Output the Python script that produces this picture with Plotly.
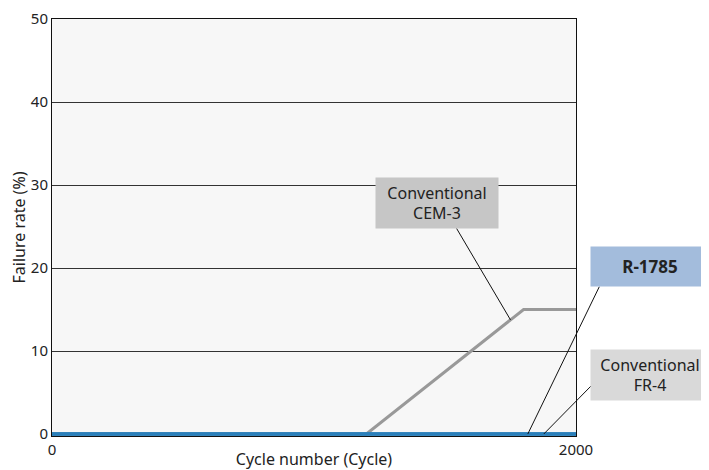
import plotly.graph_objects as go

# Data
cem3_cycles = [0, 1200, 1800, 2000]
cem3_failure = [0, 0, 15, 15]
r1785_cycles = [0, 2000]
r1785_failure = [0, 0]
fr4_cycles = [0, 2000]
fr4_failure = [0, 0]

y_ticks = [0, 10, 20, 30, 40, 50]
x_ticks = [0, 2000]

XMAX, YMIN, YMAX = 2000, -0.24, 50

fig = go.Figure()
fig.add_trace(go.Scatter(x=cem3_cycles, y=cem3_failure, mode="lines",
                         line=dict(color="#999999", width=3),
                         name="Conventional CEM-3"))
fig.add_trace(go.Scatter(x=fr4_cycles, y=fr4_failure, mode="lines",
                         line=dict(color="#2a7fba", width=3.5),
                         name="Conventional FR-4"))
fig.add_trace(go.Scatter(x=r1785_cycles, y=r1785_failure, mode="lines",
                         line=dict(color="#2a7fba", width=3.5),
                         name="R-1785"))

FONT = "Noto Sans, Open Sans, sans-serif"

def px(x):
    return x / XMAX

def py(y):
    return (y - YMIN) / (YMAX - YMIN)

# label boxes (paper coords) and leader lines
labels = [
    dict(text="Conventional<br>CEM-3", x=0.7347, y=py(27.8), bg="#c6c6c6", w=122, h=50, size=16),
    dict(text="<b>R-1785</b>", x=1.1412, y=py(20.2), bg="#a3bcdc", w=118, h=39, size=17),
    dict(text="Conventional<br>FR-4", x=1.1412, y=py(7.1), bg="#d9d9d9", w=118, h=50, size=16),
]
annotations = []
for lb in labels:
    annotations.append(dict(text=lb["text"], x=lb["x"], y=lb["y"], xref="paper", yref="paper",
                            showarrow=False, bgcolor=lb["bg"], width=lb["w"], height=lb["h"],
                            xanchor="center", yanchor="middle", align="center",
                            font=dict(family=FONT, size=lb["size"], color="#222222"),
                            borderpad=0))

# leader lines: tail (paper x, data y) -> head in data coords
leaders = [
    ((0.772, 24.78), (1750, 13.75)),
    ((1.0445, 17.75), (1816, 0)),
    ((1.0286, 5.78), (1877, 0)),
]
shapes = []
for (tx, ty), (hx, hy) in leaders:
    shapes.append(dict(type="line", xref="paper", yref="paper",
                       x0=tx, y0=py(ty), x1=px(hx), y1=py(hy),
                       line=dict(color="#111111", width=1)))

# page body has an 8px margin, so the figure is sized/offset to compensate
fig.update_layout(
    width=701, height=462,
    margin=dict(l=44, r=133, t=11, b=34, autoexpand=False),
    paper_bgcolor="white", plot_bgcolor="#f7f7f7",
    showlegend=False,
    font=dict(family=FONT, size=15, color="#222222"),
    annotations=annotations, shapes=shapes,
    xaxis=dict(range=[0, XMAX], tickvals=x_ticks, ticktext=[str(v) for v in x_ticks],
               showgrid=False, zeroline=False, showline=True, linecolor="#111111", linewidth=1,
               mirror=True, ticks="", layer="below traces",
               title=dict(text="Cycle number (Cycle)", font=dict(size=16), standoff=0)),
    yaxis=dict(range=[YMIN, YMAX], tickvals=y_ticks, showgrid=True, gridcolor="#333333", gridwidth=1,
               zeroline=False, showline=True, linecolor="#111111", linewidth=1, mirror=True,
               ticks="", layer="below traces",
               title=dict(text="Failure rate (%)", font=dict(size=16), standoff=2)),
)

fig.write_html("out.html")
